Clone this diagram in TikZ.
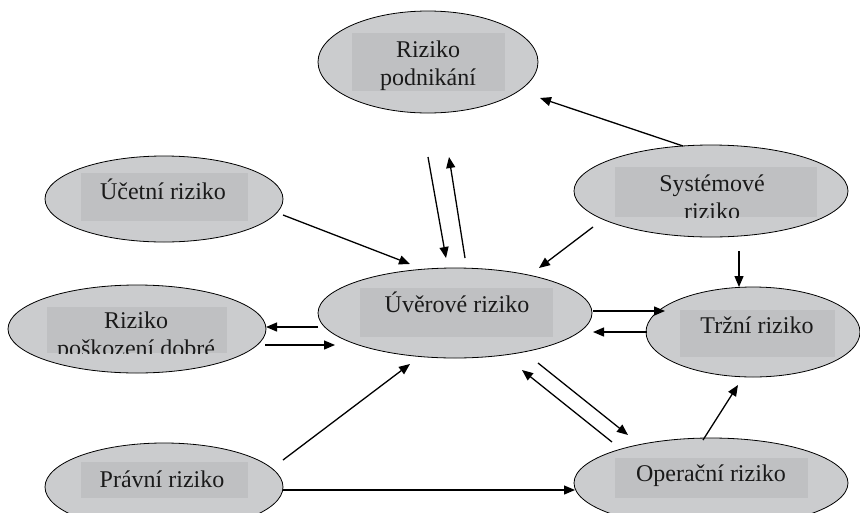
\documentclass[tikz,border=0pt]{standalone}
\usepackage{fontspec}
\setmainfont{Liberation Serif}
\usetikzlibrary{arrows.meta,shapes.geometric}
\definecolor{ellfill}{HTML}{CBCCCE}
\definecolor{boxfill}{HTML}{BFC0C2}
\definecolor{txt}{HTML}{1A1A1A}
\begin{document}
\begin{tikzpicture}[x=1pt,y=-1pt,
  risk/.style={ellipse, draw, line width=0.8pt, fill=ellfill, inner sep=0pt},
  lbl/.style={font=\fontsize{24}{28}\selectfont, align=center, inner sep=0pt, anchor=base, text=txt},
  arr/.style={-{Triangle[length=11pt,width=9pt]}, line width=1.3pt}]
\useasboundingbox (0,0) rectangle (860,512);
\begin{scope}
\clip (0,0) rectangle (860,512);
% ellipses
\node[risk, minimum width=220pt, minimum height=102pt] (pod) at (428,62) {};
\node[risk, minimum width=274pt, minimum height=92pt] (sys) at (711,191) {};
\node[risk, minimum width=238pt, minimum height=86pt] (uct) at (164,199) {};
\node[risk, minimum width=258pt, minimum height=88pt] (pos) at (137,329) {};
\node[risk, minimum width=274pt, minimum height=90pt] (uve) at (455,313) {};
\node[risk, minimum width=214pt, minimum height=90pt] (trz) at (753,332) {};
\node[risk, minimum width=274pt, minimum height=90pt] (ope) at (711,483) {};
\node[risk, minimum width=238pt, minimum height=88pt] (pra) at (164,487) {};
% inner boxes
\fill[boxfill] (352,33) rectangle (505,91);
\fill[boxfill] (615,167) rectangle (817,217);
\fill[boxfill] (81,173) rectangle (248,221);
\fill[boxfill] (47,307) rectangle (227,353);
\fill[boxfill] (360,288) rectangle (553,337);
\fill[boxfill] (680,310) rectangle (835,357);
\fill[boxfill] (615,458) rectangle (808,498);
\fill[boxfill] (81,462) rectangle (248,498);
% labels (base anchor = last line's baseline)
\node[lbl] (tpod) at (428,85) {Riziko\\podnikání};
\begin{scope}
\clip (615,167) rectangle (817,217);
\node[lbl] (tsys) at (712,219) {Systémové\\riziko};
\end{scope}
\node[lbl] (tuct) at (163,199) {Účetní riziko};
\begin{scope}
\clip (47,307) rectangle (227,353);
\node[lbl] (tpos) at (136,356) {Riziko\\poškození dobré};
\end{scope}
\node[lbl] (tuve) at (457,312) {Úvěrové riziko};
\node[lbl] (ttrz) at (757,333) {Tržní riziko};
\node[lbl] (tope) at (711,481) {Operační riziko};
\node[lbl] (tpra) at (162,487) {Právní riziko};
\end{scope}
% connector end points
\coordinate (a1s) at (683,146); \coordinate (a1e) at (540,98);
\coordinate (a2s) at (428,157); \coordinate (a2e) at (446,258);
\coordinate (a3s) at (465,258); \coordinate (a3e) at (449,157);
\coordinate (a4s) at (283,215); \coordinate (a4e) at (410,264);
\coordinate (a5s) at (593,227); \coordinate (a5e) at (539,268);
\coordinate (a6s) at (739,251); \coordinate (a6e) at (739,287);
\coordinate (a7s) at (593,311); \coordinate (a7e) at (665,311);
\coordinate (a8s) at (647,332); \coordinate (a8e) at (593,332);
\coordinate (a9s) at (318,327); \coordinate (a9e) at (266,327);
\coordinate (a10s) at (265,345); \coordinate (a10e) at (335,345);
\coordinate (a11s) at (283,460); \coordinate (a11e) at (410,364);
\coordinate (a12s) at (283,490); \coordinate (a12e) at (575,490);
\coordinate (a13s) at (538,363); \coordinate (a13e) at (628,435);
\coordinate (a14s) at (612,442); \coordinate (a14e) at (522,370);
\coordinate (a15s) at (703,440); \coordinate (a15e) at (738,385);
% connectors
\draw[arr] (a1s) -- (a1e);
\draw[arr] (a2s) -- (a2e);
\draw[arr] (a3s) -- (a3e);
\draw[arr] (a4s) -- (a4e);
\draw[arr] (a5s) -- (a5e);
\draw[arr] (a6s) -- (a6e);
\draw[arr] (a7s) -- (a7e);
\draw[arr] (a8s) -- (a8e);
\draw[arr] (a9s) -- (a9e);
\draw[arr] (a10s) -- (a10e);
\draw[arr] (a11s) -- (a11e);
\draw[arr] (a12s) -- (a12e);
\draw[arr] (a13s) -- (a13e);
\draw[arr] (a14s) -- (a14e);
\draw[arr] (a15s) -- (a15e);
\end{tikzpicture}
\end{document}
